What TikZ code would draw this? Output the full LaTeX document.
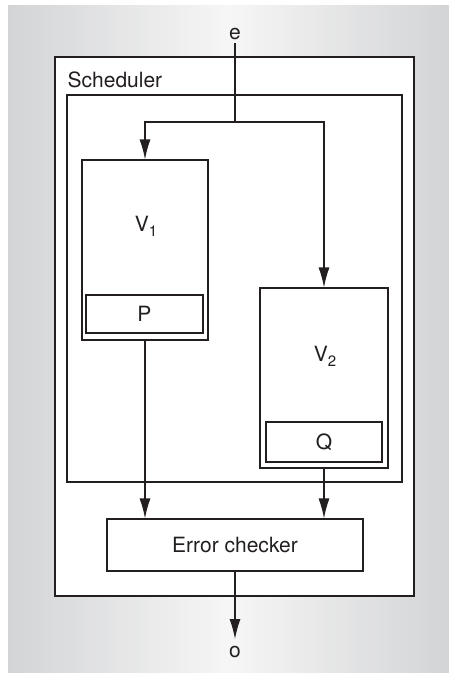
\documentclass[tikz,border=0pt]{standalone}
\usepackage{fontspec}
\setmainfont{TeX Gyre Heros}
\usetikzlibrary{arrows.meta}
\definecolor{ln}{HTML}{231F20}
\definecolor{bgedge}{HTML}{D3D4D6}
\definecolor{bgmid}{HTML}{F6F6F6}
\tikzset{
  box/.style={draw=ln, line width=1.2pt, fill=white},
  conn/.style={draw=ln, line width=1.2pt},
  arr/.style={conn, -{Latex[length=20pt,width=11pt]}},
  lbl/.style={font=\fontsize{21}{25}\selectfont, text=ln, inner sep=0pt}
}
\newcommand{\lowsub}[1]{\raisebox{-0.45ex}{\fontsize{15}{15}\selectfont #1}}
\begin{document}
\begin{tikzpicture}[x=1pt,y=-1pt]
\useasboundingbox (0,0) rectangle (449,673);
\shade[left color=bgedge, right color=bgedge, middle color=bgmid] (8,5) rectangle (449,673);
% outer box
\draw[box] (55,57) rectangle (414,596);
\node[lbl, anchor=west] (sched) at (67.5,80) {Scheduler};
% inner scheduler box
\draw[box] (67,95) rectangle (402,482);
% V1
\node[box, minimum width=126pt, minimum height=180pt, inner sep=0pt] (v1) at (145,250) {};
\node[lbl] (v1l) at (146,226) {V\lowsub{1}};
\node[box, minimum width=117pt, minimum height=38pt, lbl] (p) at (144.5,314) {P};
% V2
\node[box, minimum width=128pt, minimum height=180pt, inner sep=0pt] (v2) at (324,378) {};
\node[lbl] (v2l) at (325,356) {V\lowsub{2}};
\node[box, minimum width=116pt, minimum height=40pt, lbl] (q) at (324,442) {Q};
% error checker
\node[box, minimum width=256pt, minimum height=52pt, lbl] (ec) at (235,545) {Error checker};
% input / output
\node[lbl] (e) at (235,34) {e};
\node[lbl] (o) at (235,652) {o};
\coordinate (split) at (235,122);
\draw[conn] (e.south) ++(0,3) -- (split);
\draw[arr] (split) -| (v1.north);
\draw[arr] (split) -| (v2.north);
\draw[arr] (v1.south) -- (v1.south |- ec.north);
\draw[arr] (v2.south) -- (v2.south |- ec.north);
\draw[arr] (ec.south) -- (235,639);
\end{tikzpicture}
\end{document}
